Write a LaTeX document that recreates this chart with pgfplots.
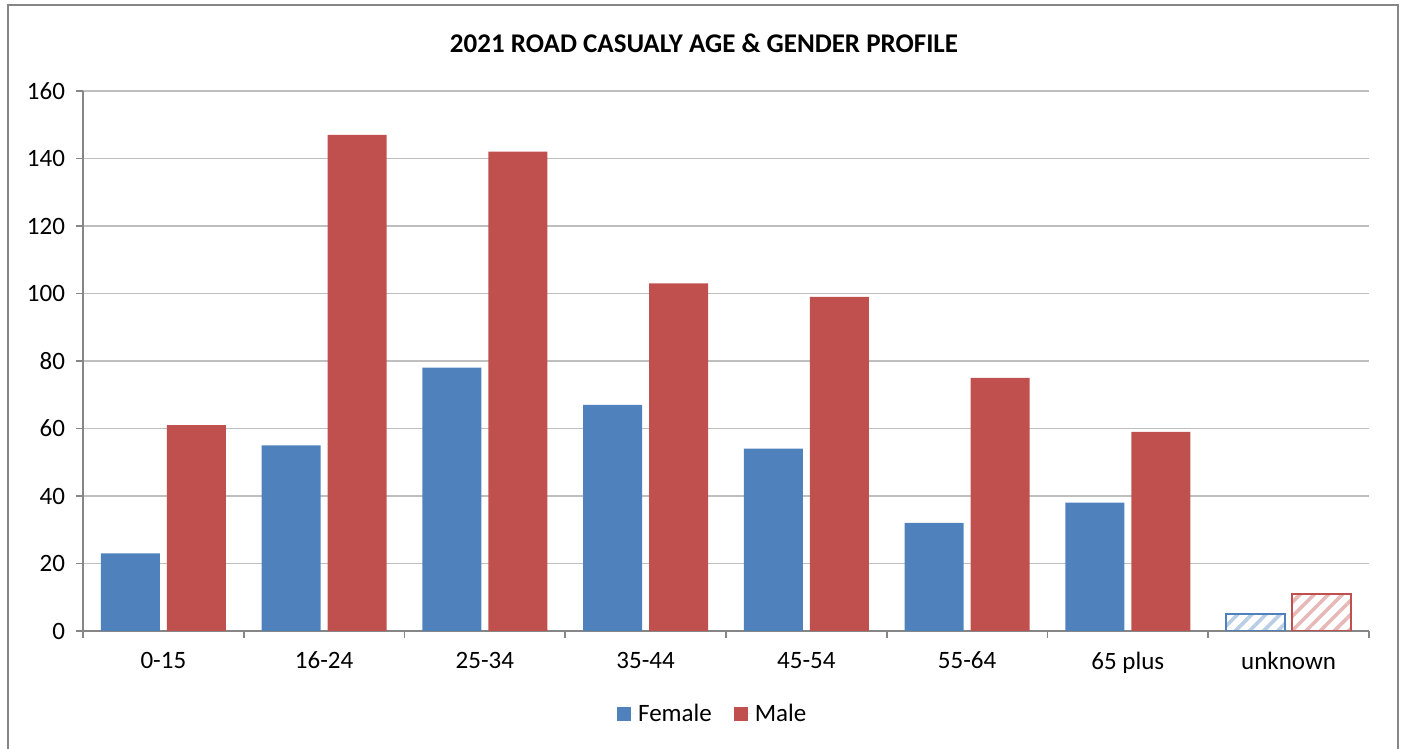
\documentclass[border=0pt]{standalone}
\usepackage{fontspec}
\setmainfont{Carlito}
\usepackage{pgfplots}
\pgfplotsset{compat=1.18}
\usetikzlibrary{patterns.meta}
\definecolor{fem}{HTML}{4F81BD}
\definecolor{mal}{HTML}{C0504D}
\definecolor{femL}{HTML}{B9CDE5}
\definecolor{malL}{HTML}{E6B9B8}
\definecolor{axg}{HTML}{868686}
\definecolor{grd}{HTML}{BFBFBF}
\begin{document}
\begin{tikzpicture}
\useasboundingbox (-41.5pt,-59pt) rectangle (660pt,315.5pt);
\draw[axg,line width=1pt] (-37.5pt,-70pt) -- (-37.5pt,313pt) -- (657.5pt,313pt) -- (657.5pt,-70pt);
\begin{axis}[
  at={(0pt,0pt)}, anchor=south west,
  scale only axis, width=643pt, height=270pt,
  xmin=-0.5, xmax=7.5, ymin=0, ymax=160,
  ybar, bar width=29.5pt,
  axis x line*=bottom, axis y line*=left,
  axis line style={axg, line width=0.9pt},
  xtick={0,...,7},
  xticklabels={0-15,16-24,25-34,35-44,45-54,55-64,65 plus,unknown},
  minor xtick={-0.5,0.5,...,7.5},
  ytick={0,20,...,160},
  tick align=outside,
  major tick length=3.5pt, minor tick length=3.5pt,
  every major x tick/.style={draw=none},
  every minor x tick/.style={axg, line width=0.9pt},
  every major y tick/.style={axg, line width=0.9pt},
  ymajorgrids, grid style={grd, line width=0.9pt},
  /pgf/number format/assume math mode=true,
  tick label style={font=\fontsize{12.5}{14}\selectfont, black},
  xticklabel style={yshift=-3.5pt},
  yticklabel style={xshift=-2pt},
  legend columns=2,
  legend style={at={(0.4905,-0.1537)}, anchor=center, draw=none,
    font=\fontsize{12.5}{14}\selectfont,
    /tikz/every even column/.append style={column sep=9pt}},
  legend image code/.code={\fill[#1] (0pt,-3.5pt) rectangle (7pt,3.5pt); \path (0pt,0pt) -- (8.5pt,0pt);},
]
\addplot[fill=fem, draw=none, bar shift=-16.5pt] coordinates {(0,23) (1,55) (2,78) (3,67) (4,54) (5,32) (6,38)};
\addplot[fill=mal, draw=none, bar shift=16.5pt] coordinates {(0,61) (1,147) (2,142) (3,103) (4,99) (5,75) (6,59)};
\addplot[forget plot, draw=fem, line width=1pt, pattern={Lines[angle=45,distance=5pt,line width=1.8pt]}, pattern color=femL, bar shift=-16.5pt] coordinates {(7,5)};
\addplot[forget plot, draw=mal, line width=1pt, pattern={Lines[angle=45,distance=5pt,line width=1.8pt]}, pattern color=malL, bar shift=16.5pt] coordinates {(7,11)};
\legend{Female,Male}
\end{axis}
\node[font=\bfseries\fontsize{13.5}{16}\selectfont] at (310.5pt,294pt) {2021 ROAD CASUALY AGE \& GENDER PROFILE};
\end{tikzpicture}
\end{document}
